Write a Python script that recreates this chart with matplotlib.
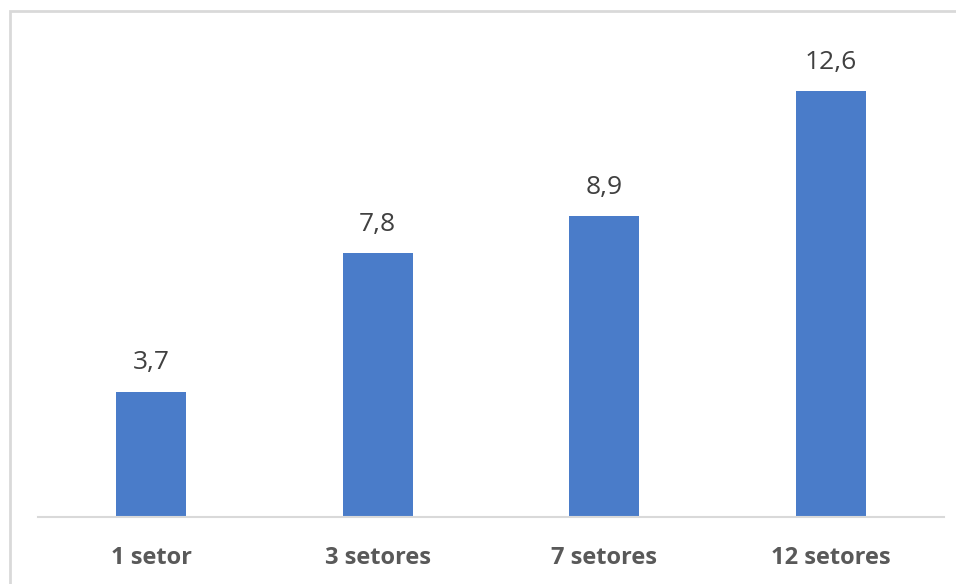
import matplotlib.pyplot as plt
from matplotlib.patches import Rectangle

categories = ['1 setor', '3 setores', '7 setores', '12 setores']
values = [3.7, 7.8, 8.9, 12.6]
value_labels = ['3,7', '7,8', '8,9', '12,6']

W, H = 956, 584
fig = plt.figure(figsize=(W / 100, H / 100), dpi=100)
plt.rcParams['font.family'] = ['Open Sans', 'DejaVu Sans']

# outer light-gray chart border
fig.patches.append(Rectangle((10 / W, -0.05), 1.2, (H - 11) / H + 0.05,
                             transform=fig.transFigure, fill=False,
                             edgecolor='#d9d9d9', linewidth=2))

ax = fig.add_axes([38 / W, (H - 517) / H, 906 / W, 473 / H])
x = range(len(categories))
bars = ax.bar(x, values, width=0.31, color='#4a7cc9')
ax.set_xlim(-0.5, 3.5)
ax.set_ylim(0, 14)

for b, lab in zip(bars, value_labels):
    ax.annotate(lab, (b.get_x() + b.get_width() / 2, b.get_height()),
                xytext=(0, 12), textcoords='offset points',
                ha='center', va='bottom', fontsize=19, color='#404040')

ax.set_xticks(list(x))
ax.set_xticklabels(categories, fontsize=17, fontweight='bold', color='#595959')
ax.tick_params(axis='x', length=0, pad=21)
ax.set_yticks([])
for s in ['top', 'right', 'left']:
    ax.spines[s].set_visible(False)
ax.spines['bottom'].set_color('#d9d9d9')
ax.spines['bottom'].set_linewidth(1.5)

fig.savefig('out.png', dpi=100)
